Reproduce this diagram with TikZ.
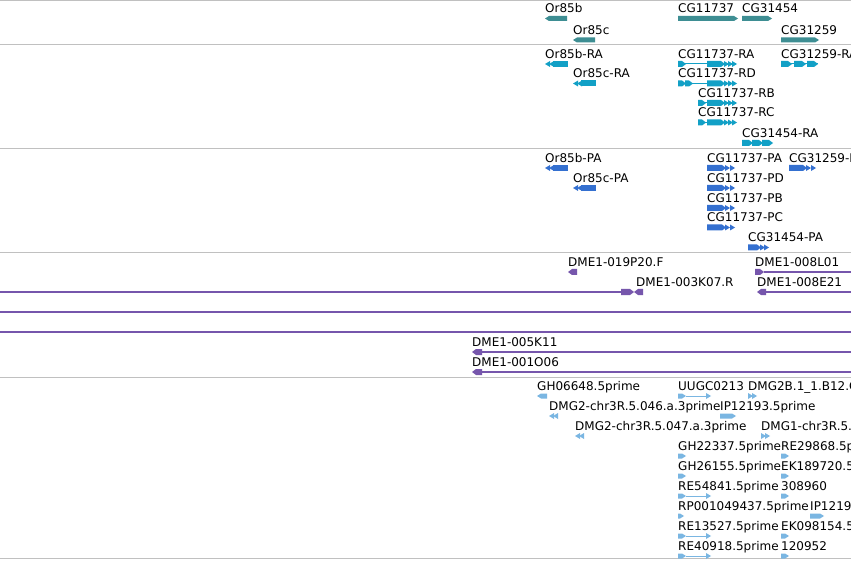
\documentclass[tikz,border=0pt]{standalone}
\usepackage{fontspec}
\setmainfont{DejaVu Sans}

\definecolor{genecol}{RGB}{62,142,147}
\definecolor{rnacol}{RGB}{18,160,198}
\definecolor{protcol}{RGB}{52,112,208}
\definecolor{clonecol}{RGB}{118,86,172}
\definecolor{estcol}{RGB}{122,182,226}
\definecolor{sepcol}{RGB}{192,192,192}

% feature glyphs: [half height]{x1}{x2}{y}{colour}
\newcommand{\fwdblk}[5][3]{\fill[#5] (#2,#4-#1) -- (#3-4,#4-#1) -- (#3,#4) -- (#3-4,#4+#1) -- (#2,#4+#1) -- cycle;}
\newcommand{\revblk}[5][3]{\fill[#5] (#3,#4-#1) -- (#2+4,#4-#1) -- (#2,#4) -- (#2+4,#4+#1) -- (#3,#4+#1) -- cycle;}
% small chevrons: {x}{y}{colour}
\newcommand{\fwdtip}[3]{\fill[#3] (#1,#2-3) -- (#1+5,#2) -- (#1,#2+3) -- cycle;}
\newcommand{\revtip}[3]{\fill[#3] (#1+5,#2-3) -- (#1,#2) -- (#1+5,#2+3) -- cycle;}

\begin{document}
\begin{tikzpicture}[x=1pt,y=-1pt,
		lbl/.style={anchor=base west,inner sep=0pt,font=\fontsize{12}{14}\selectfont},
		sepline/.style={draw=sepcol,line width=1pt},
		intron/.style={line width=1pt},
		readline/.style={draw=clonecol,line width=1.3pt}
		]
	\useasboundingbox (0,0) rectangle (851,561);
	\clip (0,0) rectangle (851,561);
	\fill[white] (0,0) rectangle (851,561);

	%% track separators
	\foreach \yy in {1,44.5,149,253,377.5,558.5}
		\draw[sepline] (0,\yy) -- (851,\yy);

	%% genes
	\node[lbl] (or85b) at (545,12.9) {Or85b};
	\node[lbl] (or85c) at (573,34.4) {Or85c};
	\node[lbl] (cg11737) at (678,12.9) {CG11737};
	\node[lbl] (cg31454) at (742,12.9) {CG31454};
	\node[lbl] (cg31259) at (781,34.4) {CG31259};
	\revblk[2.5]{545}{567}{18.5}{genecol}
	\revblk[2.5]{573}{595}{40}{genecol}
	\fwdblk[2.5]{678}{738}{18.5}{genecol}
	\fwdblk[2.5]{742}{772}{18.5}{genecol}
	\fwdblk[2.5]{781}{819}{40}{genecol}

	%% transcripts
	\node[lbl] (or85bra) at (545,58.4) {Or85b-RA};
	\node[lbl] (or85cra) at (573,77.9) {Or85c-RA};
	\node[lbl] (cgra) at (678,58.4) {CG11737-RA};
	\node[lbl] (cgrd) at (678,77.9) {CG11737-RD};
	\node[lbl] (cgrb) at (698,97.4) {CG11737-RB};
	\node[lbl] (cgrc) at (698,116.9) {CG11737-RC};
	\node[lbl] (cg31454ra) at (742,137.4) {CG31454-RA};
	\node[lbl] (cg31259ra) at (781,58.4) {CG31259-RA};
	\foreach \yy/\xx in {64/545,83.5/573}{
		\revtip{\xx}{\yy}{rnacol}
		\revtip{\xx+4}{\yy}{rnacol}
		\fill[rnacol] (\xx+8,\yy-3) rectangle (\xx+23,\yy+3);
	}
	\foreach \yy/\xs in {64/678,83.5/678,103/698,122.5/698}{
		\draw[intron,rnacol] (\xs,\yy) -- (707,\yy);
		\fwdblk{\xs}{\xs+8}{\yy}{rnacol}
		\fwdblk{707}{725}{\yy}{rnacol}
		\foreach \tp in {724,728,732}{\fwdtip{\tp}{\yy}{rnacol}}
	}
	\fwdblk{685}{693}{83.5}{rnacol}
	\draw[intron,rnacol] (781,64) -- (818,64);
	\fwdblk{781}{792}{64}{rnacol}
	\fwdblk{794}{806}{64}{rnacol}
	\fwdblk{807}{818}{64}{rnacol}
	\fwdblk{742}{753}{143}{rnacol}
	\fwdblk{752}{763}{143}{rnacol}
	\fwdblk{762}{773}{143}{rnacol}

	%% proteins
	\node[lbl] (or85bpa) at (545,162.4) {Or85b-PA};
	\node[lbl] (or85cpa) at (573,182.4) {Or85c-PA};
	\node[lbl] (cgpa) at (707,162.4) {CG11737-PA};
	\node[lbl] (cgpd) at (707,182.4) {CG11737-PD};
	\node[lbl] (cgpb) at (707,202.4) {CG11737-PB};
	\node[lbl] (cgpc) at (707,221.9) {CG11737-PC};
	\node[lbl] (cg31454pa) at (748,241.9) {CG31454-PA};
	\node[lbl] (cg31259pa) at (789,162.4) {CG31259-PA};
	\foreach \yy/\xx in {168/545,188/573}{
		\revtip{\xx}{\yy}{protcol}
		\revtip{\xx+4}{\yy}{protcol}
		\fill[protcol] (\xx+8,\yy-3) rectangle (\xx+23,\yy+3);
	}
	\foreach \yy in {168,188,208,227.5}{
		\fwdblk{707}{726}{\yy}{protcol}
		\foreach \tp in {725,730}{\fwdtip{\tp}{\yy}{protcol}}
	}
	\fwdblk{748}{761}{247.5}{protcol}
	\foreach \tp in {760,764}{\fwdtip{\tp}{247.5}{protcol}}
	\fwdblk{789}{807}{168}{protcol}
	\foreach \tp in {806,811}{\fwdtip{\tp}{168}{protcol}}

	%% clone ends
	\node[lbl] (c019p20) at (568,266.4) {DME1-019P20.F};
	\node[lbl] (c008l01) at (755,266.4) {DME1-008L01};
	\node[lbl] (c003k07) at (636,286.4) {DME1-003K07.R};
	\node[lbl] (c008e21) at (757,286.4) {DME1-008E21};
	\node[lbl] (c005k11) at (472,346.4) {DME1-005K11};
	\node[lbl] (c001o06) at (472,366.4) {DME1-001O06};
	\revblk{568}{577}{272}{clonecol}
	\fwdblk{755}{764}{272}{clonecol}
	\draw[readline] (764,272) -- (851,272);
	\draw[readline] (0,292) -- (622,292);
	\fwdblk{621}{634}{292}{clonecol}
	\revblk{634}{643}{292}{clonecol}
	\revblk{757}{766}{292}{clonecol}
	\draw[readline] (766,292) -- (851,292);
	\draw[readline] (0,312) -- (851,312);
	\draw[readline] (0,332) -- (851,332);
	\foreach \yy in {352,372}{
		\revblk{472}{482}{\yy}{clonecol}
		\draw[readline] (482,\yy) -- (851,\yy);
	}

	%% ESTs
	\node[lbl] (gh06648) at (537,390.4) {GH06648.5prime};
	\node[lbl] (uugc0213) at (678,390.4) {UUGC0213};
	\node[lbl] (dmg2b) at (748,390.4) {DMG2B.1\_1.B12.C};
	\node[lbl] (dmg046) at (549,410.4) {DMG2-chr3R.5.046.a.3prime};
	\node[lbl] (ip12193) at (720,410.4) {IP12193.5prime};
	\node[lbl] (dmg047) at (575,430.4) {DMG2-chr3R.5.047.a.3prime};
	\node[lbl] (dmg1) at (761,430.4) {DMG1-chr3R.5.};
	\node[lbl] (gh22337) at (678,450.4) {GH22337.5prime};
	\node[lbl] (re29868) at (781,450.4) {RE29868.5prime};
	\node[lbl] (gh26155) at (678,470.4) {GH26155.5prime};
	\node[lbl] (ek189720) at (781,470.4) {EK189720.5prime};
	\node[lbl] (re54841) at (678,490.4) {RE54841.5prime};
	\node[lbl] (n308960) at (781,490.4) {308960};
	\node[lbl] (rp001049) at (678,510.4) {RP001049437.5prime};
	\node[lbl] (ip1219) at (810,510.4) {IP12193.5prime};
	\node[lbl] (re13527) at (678,530.4) {RE13527.5prime};
	\node[lbl] (ek098154) at (781,530.4) {EK098154.5prime};
	\node[lbl] (re40918) at (678,550.4) {RE40918.5prime};
	\node[lbl] (n120952) at (781,550.4) {120952};
	\revblk[2.5]{537}{547}{396}{estcol}
	\revtip{549}{416}{estcol}
	\revtip{553}{416}{estcol}
	\revtip{575}{436}{estcol}
	\revtip{579}{436}{estcol}
	\fwdtip{748}{396}{estcol}
	\fwdtip{752}{396}{estcol}
	\fwdtip{761}{436}{estcol}
	\fwdtip{765}{436}{estcol}
	\fwdblk[2.5]{720}{736}{416}{estcol}
	\foreach \yy in {396,496,536,556}{
		\fwdblk[2.5]{678}{686}{\yy}{estcol}
		\draw[intron,estcol] (686,\yy) -- (707,\yy);
		\fwdtip{706}{\yy}{estcol}
	}
	\foreach \yy in {456,476}{\fwdblk[2.5]{678}{686}{\yy}{estcol}}
	\fwdblk[2.5]{678}{684}{516}{estcol}
	\foreach \yy in {456,476,496,536,556}{\fwdblk[2.5]{781}{789}{\yy}{estcol}}
	\fwdblk[2.5]{810}{824}{516}{estcol}
\end{tikzpicture}
\end{document}
